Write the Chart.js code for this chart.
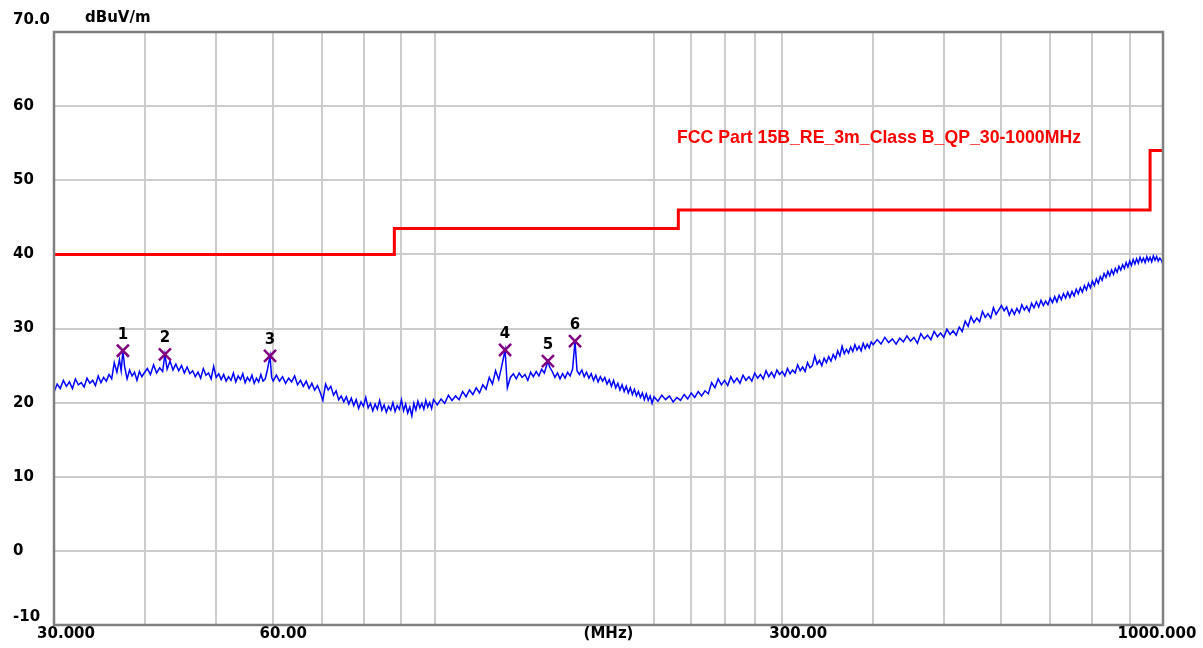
<!DOCTYPE html>
<html>
<head>
<meta charset="utf-8">
<title>FCC Part 15B RE 3m Class B</title>
<script src="https://cdn.jsdelivr.net/npm/chart.js@4/dist/chart.umd.min.js"></script>
<style>
    html, body { margin: 0; padding: 0; background: #ffffff; }
    #grafico { display: block; }
</style>
</head>
<body>
<canvas id="grafico" width="1203" height="648"></canvas>
<script>
// ============================================
// DADOS
// ============================================
const limitTitle = 'FCC Part 15B_RE_3m_Class B_QP_30-1000MHz';
const yUnit = 'dBuV/m';
const xUnit = '(MHz)';

// limite QP (degraus): frequência inicial de cada degrau e nível
const limitFreq = [30, 88, 216, 960, 1000];
const limitLevel = [40, 43.5, 46, 54, 54];

// marcadores 1..6
const markerNames = ['1', '2', '3', '4', '5', '6'];
const markerFreq = [37.3, 42.6, 59.4, 124.9, 143.0, 155.8];
const markerLevel = [27.0, 26.5, 26.3, 27.1, 25.6, 28.3];

// eixos
const yTicks = [70, 60, 50, 40, 30, 20, 10, 0, -10];
const yTickLabels = ['70.0', '60', '50', '40', '30', '20', '10', '0', '-10'];
const xGridFreq = [40, 50, 60, 70, 80, 90, 100, 200, 225, 250, 275, 300, 400, 500, 600, 700, 800, 900];
const xTickFreq = [30, 60, 300, 1000];
const xTickLabels = ['30.000', '60.00', '300.00', '1000.000'];

// varredura (MHz, dBuV/m)
const scanPoints = [
    [30.0, 21.4], [30.3, 22.5], [30.6, 21.9], [30.9, 23.0], [31.2, 22.2], [31.5, 22.8], [31.8, 21.9],
    [32.1, 23.2], [32.4, 22.4], [32.7, 22.7], [33.0, 22.1], [33.3, 23.3], [33.6, 22.6], [33.9, 23.0],
    [34.2, 22.3], [34.5, 23.6], [34.8, 22.7], [35.1, 23.4], [35.4, 22.9], [35.7, 23.8], [36.0, 23.2],
    [36.3, 25.4], [36.6, 24.1], [36.9, 25.8], [37.1, 24.3], [37.3, 27.0], [37.5, 24.9], [37.8, 23.2],
    [38.1, 24.4], [38.4, 23.6], [38.7, 24.1], [39.0, 23.0], [39.3, 24.2], [39.6, 23.5], [39.9, 24.0],
    [40.3, 24.6], [40.7, 23.8], [41.1, 25.1], [41.5, 24.0], [41.9, 24.7], [42.3, 24.2], [42.6, 26.5],
    [42.9, 24.5], [43.3, 25.6], [43.7, 24.4], [44.1, 25.2], [44.5, 24.3], [44.9, 25.0], [45.3, 24.0],
    [45.7, 24.8], [46.1, 23.9], [46.5, 24.3], [46.9, 23.5], [47.3, 24.1], [47.7, 23.3], [48.1, 24.6],
    [48.5, 23.7], [48.9, 24.0], [49.3, 23.2], [49.7, 24.9], [50.1, 23.4], [50.5, 23.9], [50.9, 23.1],
    [51.3, 23.8], [51.7, 22.9], [52.1, 23.5], [52.5, 23.0], [52.9, 24.0], [53.3, 22.8], [53.7, 23.6],
    [54.1, 23.1], [54.5, 23.9], [54.9, 22.7], [55.3, 23.4], [55.7, 22.9], [56.1, 23.7], [56.5, 22.6],
    [56.9, 23.3], [57.3, 22.8], [57.7, 23.8], [58.1, 22.9], [58.5, 23.2], [58.9, 24.4], [59.4, 26.3],
    [59.7, 23.4], [60.0, 22.9],
    [60.6, 23.7], [61.2, 22.9], [61.8, 23.5], [62.4, 22.6], [63.0, 23.3], [63.6, 22.8], [64.2, 23.6],
    [64.8, 22.4], [65.4, 23.0], [66.0, 22.2], [66.6, 22.9], [67.2, 21.9], [67.8, 22.6], [68.4, 21.7],
    [69.0, 22.3], [69.6, 21.4], [70.2, 20.3], [70.8, 22.5], [71.4, 21.7], [72.0, 22.2], [72.6, 21.0],
    [73.2, 21.6], [73.8, 20.4], [74.4, 20.9], [75.0, 20.1], [75.6, 20.8], [76.2, 19.8], [76.8, 20.6],
    [77.4, 19.6], [78.0, 20.4], [78.6, 19.2], [79.2, 20.1], [79.8, 19.5], [80.4, 20.7], [81.0, 19.3],
    [81.6, 19.9], [82.2, 18.9], [82.8, 19.8], [83.4, 19.1], [84.0, 20.3], [84.6, 19.0], [85.2, 19.7],
    [85.8, 18.7], [86.4, 19.5], [87.0, 19.0], [87.6, 20.0], [88.2, 18.8], [88.8, 19.6], [89.4, 19.1],
    [90.0, 20.4], [90.6, 18.9], [91.2, 19.8], [91.8, 18.6], [92.4, 19.4], [93.0, 18.2], [93.6, 19.9],
    [94.2, 19.0], [94.8, 20.2], [95.4, 19.3], [96.0, 19.9], [96.6, 19.1], [97.2, 20.3], [97.8, 19.4],
    [98.4, 20.0], [99.0, 19.2], [99.6, 20.4],
    [100.8, 19.7], [102.0, 20.5], [103.2, 19.9], [104.4, 21.0], [105.6, 20.3], [106.8, 20.9],
    [108.0, 20.4], [109.2, 21.5], [110.4, 20.8], [111.6, 21.7], [112.8, 21.1], [114.0, 22.0],
    [115.2, 21.3], [116.4, 22.4], [117.6, 21.8], [118.8, 23.4], [120.0, 22.5], [121.2, 24.3],
    [122.4, 23.1], [123.5, 24.8], [124.9, 27.1], [125.8, 22.0], [127.0, 23.4], [128.2, 23.9],
    [129.4, 23.2], [130.6, 24.0], [131.8, 23.4], [133.0, 23.8], [134.2, 23.0], [135.4, 24.1],
    [136.6, 23.5], [137.8, 24.2], [139.0, 23.6], [140.2, 24.5], [141.4, 24.0], [142.4, 25.0],
    [143.0, 25.6], [143.8, 24.8], [145.0, 24.2], [146.2, 23.4], [147.4, 24.0], [148.6, 23.2],
    [149.8, 23.9], [151.0, 23.3], [152.2, 24.1], [153.4, 23.6], [154.6, 24.5], [155.8, 28.3],
    [156.8, 24.3], [158.0, 23.8], [159.2, 24.4], [160.4, 23.5], [161.6, 24.1], [162.8, 23.3],
    [164.0, 23.9], [165.2, 23.0], [166.4, 23.7], [167.6, 22.8], [168.8, 23.5], [170.0, 22.9],
    [171.2, 23.4], [172.4, 22.5], [173.6, 23.1], [174.8, 22.2], [176.0, 23.0], [177.2, 22.0],
    [178.4, 22.6], [179.6, 21.7], [180.8, 22.4], [182.0, 21.5], [183.2, 22.2], [184.4, 21.3],
    [185.6, 22.0], [186.8, 21.1], [188.0, 21.8], [189.2, 20.9], [190.4, 21.5], [191.6, 20.7],
    [192.8, 21.3], [194.0, 20.4], [195.2, 21.2], [196.4, 20.3], [197.6, 20.9], [198.8, 19.9],
    [200.0, 20.8], [202.5, 20.2], [205.0, 21.0], [207.5, 20.4], [210.0, 20.9], [212.5, 20.1],
    [215.0, 20.7], [217.5, 20.3], [220.0, 21.1], [222.5, 20.5], [225.0, 21.3], [227.5, 20.7],
    [230.0, 21.5], [232.5, 20.9], [235.0, 21.6], [237.5, 21.2], [240.0, 22.7], [242.5, 22.0],
    [245.0, 23.2], [247.5, 22.4], [250.0, 23.0], [252.5, 22.3], [255.0, 23.5], [257.5, 22.7],
    [260.0, 23.3], [262.5, 22.6], [265.0, 23.7], [267.5, 23.0], [270.0, 23.5], [272.5, 22.9],
    [275.0, 24.0], [277.5, 23.3], [280.0, 23.8], [282.5, 23.2], [285.0, 24.3], [287.5, 23.5],
    [290.0, 24.1], [292.5, 23.4], [295.0, 24.4], [297.5, 23.8], [300.0, 24.2], [302.5, 23.6],
    [305.0, 24.6], [307.5, 23.9], [310.0, 24.4], [312.5, 24.0], [315.0, 25.1], [317.5, 24.3],
    [320.0, 24.8], [322.5, 24.2], [325.0, 25.4], [327.5, 24.7], [330.0, 25.0], [332.5, 26.3],
    [335.0, 25.2], [337.5, 25.7], [340.0, 25.0], [342.5, 26.0], [345.0, 25.4], [347.5, 26.2],
    [350.0, 25.6], [352.5, 26.5], [355.0, 25.9], [357.5, 27.0], [360.0, 26.3], [362.5, 27.6],
    [365.0, 26.6], [367.5, 27.2], [370.0, 26.7], [372.5, 27.5], [375.0, 26.9], [377.5, 27.8],
    [380.0, 27.1], [382.5, 27.6], [385.0, 27.0], [387.5, 28.0], [390.0, 27.3], [392.5, 27.9],
    [395.0, 27.4], [397.5, 28.2],
    [400, 27.8], [405, 28.5], [410, 27.9], [415, 28.8], [420, 28.1], [425, 28.6], [430, 27.9],
    [435, 28.7], [440, 28.2], [445, 29.0], [450, 28.3], [455, 28.8], [460, 28.0], [465, 29.3],
    [470, 28.6], [475, 29.1], [480, 28.5], [485, 29.6], [490, 28.9], [495, 29.4], [500, 28.8],
    [505, 29.9], [510, 29.2], [515, 29.7], [520, 29.1], [525, 30.2], [530, 29.6], [535, 31.0],
    [540, 30.3], [545, 31.6], [550, 30.8], [555, 31.4], [560, 30.9], [565, 32.3], [570, 31.5],
    [575, 32.0], [580, 31.4], [585, 32.8], [590, 31.9], [595, 32.5], [600, 33.1], [605, 32.4],
    [610, 32.9], [615, 31.8], [620, 32.6], [625, 31.9], [630, 32.7], [635, 32.1], [640, 33.2],
    [645, 32.5], [650, 33.0], [655, 32.3], [660, 33.4], [665, 32.8], [670, 33.6], [675, 32.9],
    [680, 33.8], [685, 33.1], [690, 33.7], [695, 33.2], [700, 34.1], [705, 33.5], [710, 34.3],
    [715, 33.6], [720, 34.5], [725, 33.9], [730, 34.7], [735, 34.1], [740, 34.9], [745, 34.2],
    [750, 35.0], [755, 34.4], [760, 35.3], [765, 34.7], [770, 35.5], [775, 34.9], [780, 35.8],
    [785, 35.2], [790, 36.1], [795, 35.5], [800, 36.4], [805, 35.8], [810, 36.7], [815, 36.1],
    [820, 37.0], [825, 36.5], [830, 37.4], [835, 36.9], [840, 37.7], [845, 37.1], [850, 37.9],
    [855, 37.3], [860, 38.1], [865, 37.6], [870, 38.4], [875, 37.9], [880, 38.6], [885, 38.1],
    [890, 38.9], [895, 38.3], [900, 39.1], [905, 38.5], [910, 39.3], [915, 38.7], [920, 39.4],
    [925, 38.8], [930, 39.6], [935, 39.0], [940, 39.5], [945, 38.9], [950, 39.7], [955, 39.1],
    [960, 39.6], [965, 39.0], [970, 39.8], [975, 39.2], [980, 39.7], [985, 39.1], [990, 39.5],
    [995, 39.2], [1000, 38.6]
];

// ============================================
// GRÁFICO
// ============================================
const FONTE = 'bold 15px "DejaVu Sans"';

// fundo branco, textos dos eixos e moldura
const textosPlugin = {
    id: 'textos',
    beforeDraw(chart) {
        const ctx = chart.ctx;
        ctx.save();
        ctx.fillStyle = '#ffffff';
        ctx.fillRect(0, 0, chart.width, chart.height);
        ctx.restore();
    },
    afterDatasetsDraw(chart) {
        const ctx = chart.ctx;
        const area = chart.chartArea;
        const x = chart.scales.x;
        const y = chart.scales.y;

        ctx.save();

        // moldura
        ctx.strokeStyle = '#808080';
        ctx.lineWidth = 2.5;
        ctx.strokeRect(area.left, area.top, area.right - area.left, area.bottom - area.top);

        ctx.fillStyle = '#000000';
        ctx.font = FONTE;
        ctx.textBaseline = 'middle';

        // eixo Y
        ctx.textAlign = 'left';
        yTicks.forEach((v, i) => {
            let py = y.getPixelForValue(v);
            if (i === 0) py -= 12;
            if (i === yTicks.length - 1) py -= 8;
            ctx.fillText(yTickLabels[i], 13, py);
        });
        ctx.fillText(yUnit, 85, 18);

        // eixo X
        const ajustes = [12, 10, 16, -6];
        ctx.textAlign = 'center';
        xTickFreq.forEach((f, i) => {
            ctx.fillText(xTickLabels[i], x.getPixelForValue(f) + ajustes[i], 634);
        });
        ctx.fillText(xUnit, (area.left + area.right) / 2, 634);

        // números dos marcadores
        const meta = chart.getDatasetMeta(0);
        meta.data.forEach((pt, i) => {
            ctx.fillText(markerNames[i], pt.x, pt.y - 16);
        });

        // título do limite
        ctx.fillStyle = '#ff0000';
        ctx.font = 'bold 17.7px "Liberation Sans"';
        ctx.textAlign = 'left';
        ctx.fillText(limitTitle, 677, 138);

        ctx.restore();
    }
};

const ctx = document.getElementById('grafico').getContext('2d');

new Chart(ctx, {
    type: 'line',
    data: {
        datasets: [
            {
                label: 'Marcadores',
                data: markerFreq.map((f, i) => ({ x: f, y: markerLevel[i] })),
                showLine: false,
                pointStyle: 'crossRot',
                pointRadius: 8.5,
                pointBorderWidth: 2.5,
                pointBorderColor: '#800080',
                order: 0
            },
            {
                label: 'Limite',
                data: limitFreq.map((f, i) => ({ x: f, y: limitLevel[i] })),
                stepped: 'before',
                borderColor: '#ff0000',
                borderWidth: 3,
                pointRadius: 0,
                fill: false,
                order: 1
            },
            {
                label: 'Varredura',
                data: scanPoints.map(p => ({ x: p[0], y: p[1] })),
                borderColor: '#0000ff',
                borderWidth: 1.5,
                pointRadius: 0,
                tension: 0,
                fill: false,
                order: 2
            }
        ]
    },
    options: {
        responsive: false,
        animation: false,
        layout: { padding: { top: 32, right: 40, left: 0, bottom: 0 } },
        plugins: {
            legend: { display: false },
            tooltip: { enabled: false }
        },
        scales: {
            x: {
                type: 'logarithmic',
                min: 30,
                max: 1000,
                afterBuildTicks: (s) => { s.ticks = xGridFreq.map(v => ({ value: v })); },
                afterFit: (s) => { s.height = 23; },
                ticks: { display: false },
                grid: { color: '#cccccc', lineWidth: 2, drawTicks: false },
                border: { display: false }
            },
            y: {
                min: -10,
                max: 70,
                afterBuildTicks: (s) => { s.ticks = yTicks.map(v => ({ value: v })); },
                afterFit: (s) => { s.width = 54; },
                ticks: { display: false },
                grid: { color: '#cccccc', lineWidth: 2, drawTicks: false },
                border: { display: false }
            }
        }
    },
    plugins: [textosPlugin]
});
</script>
</body>
</html>
